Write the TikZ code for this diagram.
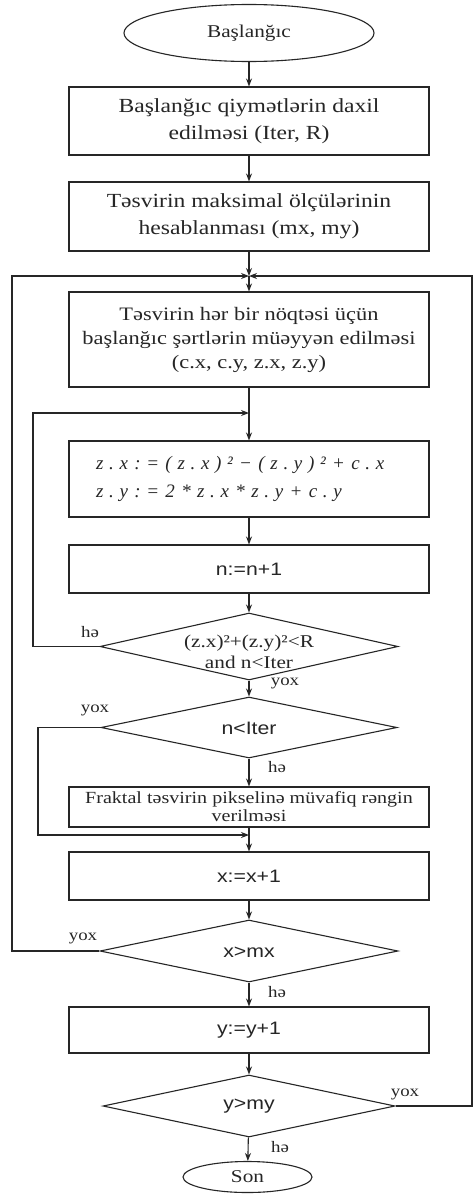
\documentclass[tikz,border=0pt]{standalone}
\usepackage{fontspec}
\setmainfont{Liberation Serif}[FakeStretch=1.18]
\newfontfamily\sansf{Liberation Sans}[FakeStretch=1.18]
\newfontfamily\formf{Liberation Serif}[LetterSpace=30]
\usetikzlibrary{shapes.geometric,arrows.meta}
\definecolor{ink}{gray}{0.15}
\begin{document}
\begin{tikzpicture}[x=1pt,y=-1pt,
  every node/.style={text=ink},
  box/.style={draw=ink, line width=1.1pt, minimum width=360pt, inner sep=0pt, align=center},
  ell/.style={draw=ink, ellipse, line width=1.1pt, inner sep=0pt},
  dia/.style={draw=ink, diamond, line width=1.1pt, inner sep=0pt},
  arr/.style={draw=ink, line width=1.1pt, -{Stealth[length=8pt,width=6pt]}},
  ln/.style={draw=ink, line width=1.1pt},
  lab/.style={font=\fontsize{16}{18}\selectfont, inner sep=0pt},
  stxt/.style={font=\sansf\fontsize{18}{20}\selectfont, inner sep=0pt},
  dtxt/.style={font=\fontsize{18}{21}\selectfont, inner sep=0pt, align=center}
]
\useasboundingbox (0,0) rectangle (474,1194);
\fill[white] (0,0) rectangle (474,1194);

% nodes
\node[ell, minimum width=250pt, minimum height=57pt, font=\fontsize{18}{20}\selectfont] (start) at (249,33) {Başlanğıc};
\node[box, minimum height=68pt, font=\fontsize{20}{27}\selectfont] (b1) at (249,121) {Başlanğıc qiymətlərin daxil\\edilməsi (Iter, R)};
\node[box, minimum height=69pt, font=\fontsize{20}{27}\selectfont] (b2) at (249,216.5) {Təsvirin maksimal ölçülərinin\\hesablanması (mx, my)};
\coordinate (J1) at (249,276);
\node[box, minimum height=95pt, font=\fontsize{19}{24}\selectfont] (b3) at (249,339.5) {Təsvirin hər bir nöqtəsi üçün\\başlanğıc şərtlərin müəyyən edilməsi\\(c.x, c.y, z.x, z.y)};
\coordinate (J2) at (249,413);
\node[box, minimum height=76pt, text width=306pt, inner xsep=27pt, align=left, font=\formf\itshape\fontsize{19}{28}\selectfont] (b4) at (249,479) {z.x := (z.x)² − (z.y)² + c.x\\z.y := 2 * z.x * z.y + c.y};
\node[box, minimum height=48pt, font=\sansf\fontsize{18}{20}\selectfont] (b5) at (249,569) {n:=n+1};
\node[dia, minimum width=298pt, minimum height=67pt] (d1) at (249,646.5) {};
\node[dtxt] (d1t) at (249,652) {(z.x)²+(z.y)²<R\\and n<Iter};
\node[dia, minimum width=296pt, minimum height=61pt] (d2) at (249,727.5) {};
\node[stxt] (d2t) at (249,728) {n<Iter};
\node[box, minimum height=40pt, font=\fontsize{17}{18}\selectfont] (b6) at (249,807) {Fraktal təsvirin pikselinə müvafiq rəngin\\verilməsi};
\coordinate (J3) at (249,835);
\node[box, minimum height=48pt, font=\sansf\fontsize{18}{20}\selectfont] (b7) at (249,876) {x:=x+1};
\node[dia, minimum width=298pt, minimum height=62pt] (d3) at (249,951) {};
\node[stxt] (d3t) at (249,952) {x>mx};
\node[box, minimum height=46pt, font=\sansf\fontsize{18}{20}\selectfont] (b8) at (249,1030) {y:=y+1};
\node[dia, minimum width=292pt, minimum height=62pt] (d4) at (249,1106) {};
\node[stxt] (d4t) at (249,1106) {y>my};
\node[ell, minimum width=129pt, minimum height=31pt, font=\fontsize{18}{20}\selectfont] (end) at (247.5,1177) {Son};

% coordinates for loops
\coordinate (L1a) at (33,646.5);
\coordinate (L1b) at (33,413);
\coordinate (L2a) at (38,727.5);
\coordinate (L2b) at (38,835);
\coordinate (L3a) at (12,951);
\coordinate (L3b) at (12,276);
\coordinate (L4a) at (472,1106);
\coordinate (L4b) at (472,276);

% connectors
\draw[arr] (start) -- (b1);
\draw[arr] (b1) -- (b2);
\draw[arr] (b2) -- (J1);
\draw[arr] (J1) -- (b3);
\draw[ln] (b3) -- (J2);
\draw[arr] (J2) -- (b4);
\draw[arr] (b4) -- (b5);
\draw[arr] (b5) -- (d1);
\draw[arr] (d1.west) -- (L1a) -- (L1b) -- (J2);
\draw[arr] (d1) -- (d2);
\draw[arr] (d2.west) -- (L2a) -- (L2b) -- (J3);
\draw[arr] (d2) -- (b6);
\draw[ln] (b6) -- (J3);
\draw[arr] (J3) -- (b7);
\draw[arr] (b7) -- (d3);
\draw[arr] (d3.west) -- (L3a) -- (L3b) -- (J1);
\draw[arr] (d3) -- (b8);
\draw[arr] (b8) -- (d4);
\draw[arr] (d4.east) -- (L4a) -- (L4b) -- (J1);
\draw[arr] (d4) -- (end);

% labels
\node[lab] (l1) at (90,632) {hə};
\node[lab] (l2) at (285,683) {yox};
\node[lab] (l3) at (95,710) {yox};
\node[lab] (l4) at (277,767) {hə};
\node[lab] (l5) at (83,938) {yox};
\node[lab] (l6) at (277,992) {hə};
\node[lab] (l7) at (405,1094) {yox};
\node[lab] (l8) at (280,1147) {hə};
\end{tikzpicture}
\end{document}
